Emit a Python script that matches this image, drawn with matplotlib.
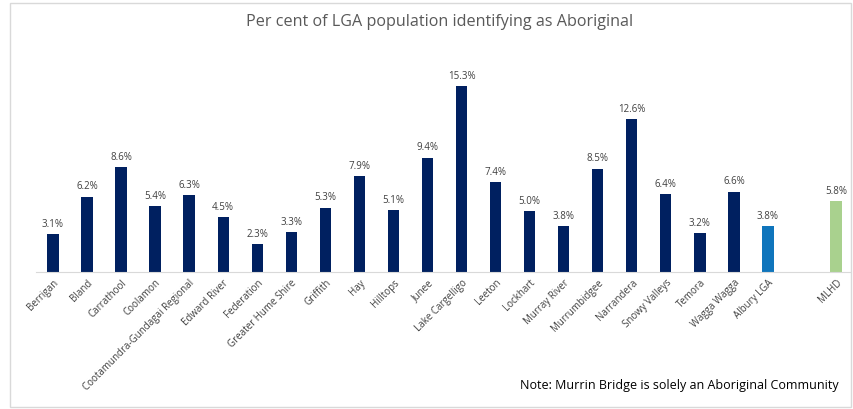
import matplotlib.pyplot as plt
from matplotlib.patches import Rectangle

lgas = ['Berrigan', 'Bland', 'Carrathool', 'Coolamon', 'Cootamundra-Gundagai Regional',
        'Edward River', 'Federation', 'Greater Hume Shire', 'Griffith', 'Hay', 'Hilltops',
        'Junee', 'Lake Cargelligo', 'Leeton', 'Lockhart', 'Murray River', 'Murrumbidgee',
        'Narrandera', 'Snowy Valleys', 'Temora', 'Wagga Wagga', 'Albury LGA', 'MLHD']
pct = [3.1, 6.2, 8.6, 5.4, 6.3, 4.5, 2.3, 3.3, 5.3, 7.9, 5.1, 9.4, 15.3, 7.4, 5.0,
       3.8, 8.5, 12.6, 6.4, 3.2, 6.6, 3.8, 5.8]

plt.rcParams['font.family'] = ['Open Sans', 'DejaVu Sans']

# last bar (MLHD) sits one empty slot further right
xpos = list(range(len(lgas) - 1)) + [len(lgas)]
colors = ['#002060'] * (len(lgas) - 2) + ['#0F75BC', '#A9D18E']

fig = plt.figure(figsize=(8.54, 4.09), dpi=100)
fig.patches.append(Rectangle((0.012, 0.005), 0.985, 0.988, transform=fig.transFigure,
                             fill=False, edgecolor='#D9D9D9', linewidth=1))
ax = fig.add_axes([0.042, 0.335, 0.955, 0.535])

bars = ax.bar(xpos, pct, width=0.33, color=colors)
for x, v in zip(xpos, pct):
    ax.text(x, v + 0.35, f'{v:.1f}%', ha='center', va='bottom', fontsize=7, color='#404040')

ax.set_xlim(-0.5, 23.45)
ax.set_ylim(0, 18)
ax.set_xticks(xpos)
ax.set_xticklabels(lgas, rotation=45, ha='right', rotation_mode='anchor',
                   fontsize=7, color='#404040')
ax.tick_params(axis='x', length=0, pad=4)
ax.set_yticks([])
for s in ['top', 'right', 'left']:
    ax.spines[s].set_visible(False)
ax.spines['bottom'].set_color('#D9D9D9')

fig.text(0.515, 0.945, 'Per cent of LGA population identifying as Aboriginal',
         ha='center', va='center', fontsize=11.6, color='#595959')
fig.text(0.982, 0.058, 'Note: Murrin Bridge is solely an Aboriginal Community',
         ha='right', va='center', fontsize=9, color='black')

fig.savefig('out.png', dpi=100)
